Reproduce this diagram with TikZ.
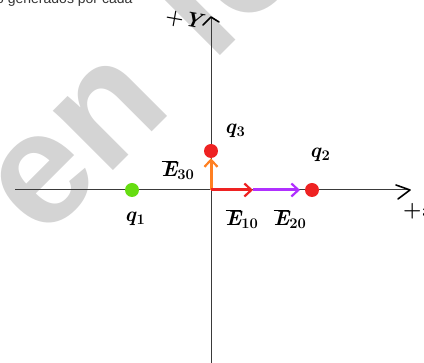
\documentclass[tikz,border=0pt]{standalone}
\usepackage{fontspec}
\newfontfamily\wmfont{Liberation Sans}
\usetikzlibrary{arrows.meta}
\definecolor{wmgray}{HTML}{D4D4D4}
\definecolor{axisgray}{HTML}{3A3A3A}
\definecolor{qgreen}{HTML}{66DD11}
\definecolor{qred}{HTML}{EE2222}
\definecolor{eorange}{HTML}{FF8022}
\definecolor{ered}{HTML}{EE2222}
\definecolor{epurple}{HTML}{B030FF}
\newcommand\qlab[1]{\textit{q}\textsubscript{#1}}
\newcommand\Elab[1]{$\overline{\hbox{\itshape E}}$\textsubscript{#1}}
\tikzset{
  wm/.style={inner sep=0pt, anchor=base west, rotate=45, text=wmgray,
    font=\wmfont\bfseries\fontsize{160}{160}\selectfont},
  axisline/.style={draw=axisgray, line width=1pt},
  chevron/.style={draw=black, line width=1.6pt, line cap=round, line join=round},
  charge/.style={circle, inner sep=0pt, minimum size=14pt, draw=none},
  vec/.style={line width=3pt, -{Straight Barb[length=7pt,width=13pt,line width=2.2pt]}},
  lab/.style={inner sep=1pt, font=\bfseries\fontsize{21}{21}\selectfont},
}
\begin{document}
\begin{tikzpicture}[x=1pt,y=-1pt]
\useasboundingbox (0,0) rectangle (424,363);
% watermark
\node[wm] (wme) at (42,241.5) {e};
\node[wm] (wmn) at (105,178.5) {n};
\node[wm] (wml) at (212,64) {l};
\node[wm] (wmo) at (243,33) {o};
% cut-off caption at top
\node[inner sep=0pt, anchor=base west, text=black!80,
  font=\wmfont\fontsize{14}{14}\selectfont] (cap) at (-4,4) {o generados por cada};
% axes
\coordinate (O) at (211,190);
\coordinate (xl) at (15,190);
\coordinate (xr) at (410,190);
\coordinate (yb) at (211,363);
\coordinate (yt) at (211,17);
\draw[axisline] (xl) -- (xr);
\draw[axisline] (yb) -- (yt);
\draw[chevron] ([shift={(-14,-5)}]xr) -- (xr) -- ([shift={(-12,9)}]xr);
\draw[chevron] ([shift={(-8,8)}]yt) -- (yt) -- ([shift={(8,5)}]yt);
\node[lab, rotate=-10] (ylab) at (185,20) {+\textit{Y}};
\node[lab, anchor=west] (xlab) at (402,211) {+\textit{x}};
% charges
\node[charge, fill=qgreen] (q1) at (132,190) {};
\node[charge, fill=qred] (q2) at (312,190) {};
\node[charge, fill=qred] (q3) at (211,151) {};
% field vectors
\coordinate (m) at (253,190);
\coordinate (p) at (300,190);
\draw[vec, draw=eorange] (O) -- (q3.south);
\draw[vec, draw=ered] (O) -- (m);
\draw[vec, draw=epurple] (m) -- (p);
% labels
\node[lab] (lq1) at (135,219) {\qlab{1}};
\node[lab] (lq2) at (320,155) {\qlab{2}};
\node[lab] (lq3) at (235,131) {\qlab{3}};
\node[lab] (le30) at (178,170) {\Elab{30}};
\node[lab] (le10) at (242,219) {\Elab{10}};
\node[lab] (le20) at (290,219) {\Elab{20}};
\end{tikzpicture}
\end{document}
